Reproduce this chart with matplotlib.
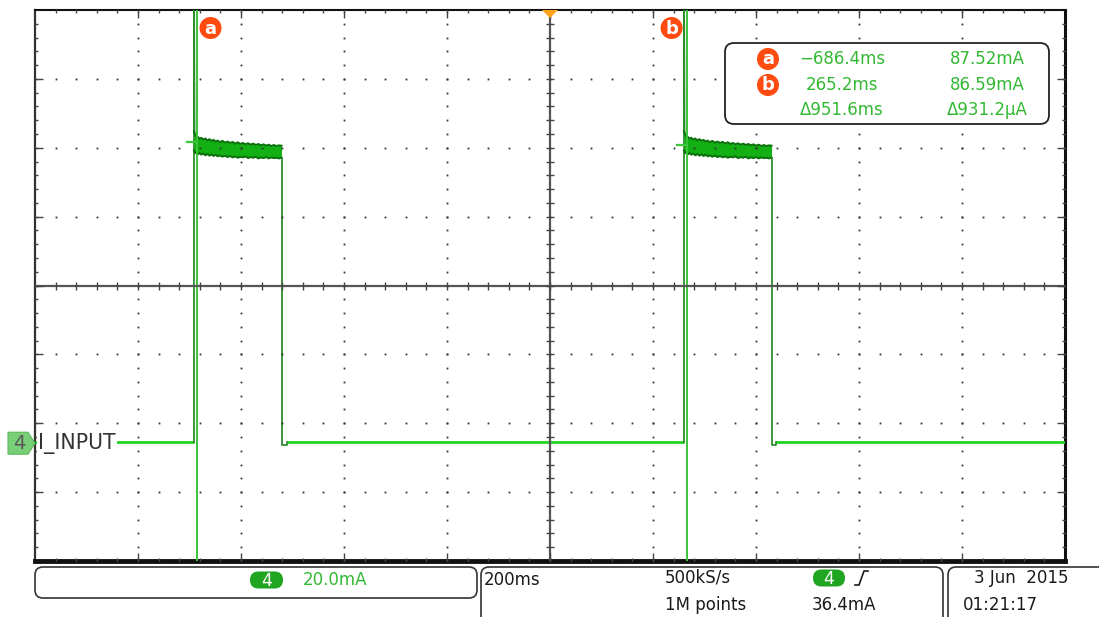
import matplotlib
matplotlib.use("Agg")
import matplotlib.pyplot as plt
import numpy as np
from matplotlib.patches import FancyBboxPatch, Polygon, Circle

# ---------------------------------------------------------------- settings
W, H = 1099, 617
SX0, SX1, SY0, SY1 = 35, 1065, 10, 561      # screen area in pixels

TIME_DIV_MS = 200
CURR_DIV_MA = 20
CENTER_MA = 45.8
N_HDIV, N_VDIV = 10, 8

# ---------------------------------------------------------------- waveform
RISE_MS = [-691.3, 260.2]
FALL_MS = [-520.4, 430.5]
BASE_MA = 0.3
UNDER_MA = -0.6
UNDER_MS = 9.0
SPIKE_MA = 140.0

# noise envelope of the "on" current, time measured from the rising edge
ENV_T_MS = [0, 1, 3, 5, 8, 11, 14, 18, 22, 26, 30, 34, 38, 42, 46, 50, 55, 60, 65, 70,
            75, 80, 85, 90, 95, 100, 105, 110, 115, 120, 125, 130, 135, 140, 145, 150,
            155, 160, 165, 170]
ENV_HI_MA = [90.6, 90.2, 89.4, 89.0, 88.9, 88.4, 88.7, 88.2, 88.5, 87.9, 88.3, 87.8,
             88.1, 87.6, 87.9, 87.4, 87.8, 87.3, 87.6, 87.2, 87.5, 87.0, 87.4, 86.9,
             87.2, 86.8, 87.1, 86.7, 87.0, 86.6, 86.9, 86.5, 86.8, 86.4, 86.7, 86.3,
             86.6, 86.3, 86.5, 86.4]
ENV_LO_MA = [85.0, 84.6, 84.2, 84.5, 83.9, 84.3, 83.8, 84.1, 83.6, 84.0, 83.5, 83.9,
             83.4, 83.8, 83.3, 83.6, 83.2, 83.5, 83.1, 83.4, 83.0, 83.3, 82.9, 83.2,
             83.0, 83.3, 82.8, 83.1, 82.9, 83.2, 82.7, 83.0, 82.8, 83.1, 82.7, 83.0,
             82.8, 82.9, 82.7, 82.9]

# ---------------------------------------------------------------- cursors
CURSOR_NAMES = ["a", "b"]
CURSOR_T_MS = [-686.4, 265.2]
CURSOR_I_MA = [87.52, 86.59]
DELTA_T_TXT = "\u0394951.6ms"
DELTA_I_TXT = "\u0394931.2\u00b5A"

CH_LABEL = "I_INPUT"
SCALE_TXT = "20.0mA"
TIMEBASE_TXT = "200ms"
RATE_TXT = "500kS/s"
POINTS_TXT = "1M points"
TRIG_TXT = "36.4mA"
DATE_TXT = "3 Jun  2015"
TIME_TXT = "01:21:17"

GREEN_TXT = "#33b833"
CURSOR_RED = "#ff4a10"

fig = plt.figure(figsize=(W / 100, H / 100), dpi=100)
fig.patch.set_facecolor("white")

ax = fig.add_axes([SX0 / W, 1 - SY1 / H, (SX1 - SX0) / W, (SY1 - SY0) / H])
xmin, xmax = -N_HDIV / 2 * TIME_DIV_MS, N_HDIV / 2 * TIME_DIV_MS
ymin, ymax = CENTER_MA - N_VDIV / 2 * CURR_DIV_MA, CENTER_MA + N_VDIV / 2 * CURR_DIV_MA
ax.set_xlim(xmin, xmax)
ax.set_ylim(ymin, ymax)
ax.set_xticks([])
ax.set_yticks([])
for side, lw, col in [("top", 1.5, "#111"), ("left", 1.6, "#333"),
                      ("right", 2.2, "#111"), ("bottom", 3.5, "#111")]:
    ax.spines[side].set_linewidth(lw)
    ax.spines[side].set_color(col)


def xpx(t):
    return SX0 + (t - xmin) / (xmax - xmin) * (SX1 - SX0)


def ypx(v):
    return SY0 + (ymax - v) / (ymax - ymin) * (SY1 - SY0)


# ---------------------------------------------------------------- graticule
minor_x = np.arange(xmin, xmax + 1, TIME_DIV_MS / 5)[1:-1]
minor_y = (CENTER_MA + np.arange(-N_VDIV / 2 * CURR_DIV_MA, N_VDIV / 2 * CURR_DIV_MA + 0.01,
                                 CURR_DIV_MA / 5))[1:-1]
major_x = np.arange(xmin, xmax + 1, TIME_DIV_MS)[1:-1]
major_y = (CENTER_MA + np.arange(-N_VDIV / 2, N_VDIV / 2 + 1) * CURR_DIV_MA)[1:-1]

dot_kw = dict(ls="none", marker="s", ms=1.3, color="#333", zorder=6, mew=0)
for yv in major_y:
    if abs(yv - CENTER_MA) > 1e-6:
        ax.plot(minor_x, np.full_like(minor_x, yv), **dot_kw)
for xv in major_x:
    if abs(xv) > 1e-6:
        ax.plot(np.full_like(minor_y, xv), minor_y, **dot_kw)

ax.axhline(CENTER_MA, color="#555", lw=1.6, zorder=5)
ax.axvline(0, color="#555", lw=1.6, zorder=5)
tick_kw = dict(ls="none", color="#444", mew=1.0, zorder=6)
ax.plot(minor_x, np.full_like(minor_x, CENTER_MA), marker="|", ms=6, **tick_kw)
ax.plot(np.zeros_like(minor_y), minor_y, marker="_", ms=6, **tick_kw)
for yb in (ymin, ymax):
    ax.plot(minor_x, np.full_like(minor_x, yb), marker="|", ms=5, **tick_kw)
    ax.plot(major_x, np.full_like(major_x, yb), marker="|", ms=11, **tick_kw)
for xb in (xmin, xmax):
    ax.plot(np.full_like(minor_y, xb), minor_y, marker="_", ms=5, **tick_kw)
    ax.plot(np.full_like(major_y, xb), major_y, marker="_", ms=11, **tick_kw)

# ---------------------------------------------------------------- trace
EDGE = "#2e8e2e"
BASE_COL = "#1fd41f"
env_t = np.array(ENV_T_MS, dtype=float)
base_starts = [xmin] + [f + UNDER_MS for f in FALL_MS]
base_ends = RISE_MS + [xmax]
for s, e in zip(base_starts, base_ends):
    ax.plot([s, e], [BASE_MA, BASE_MA], color=BASE_COL, lw=2.0, zorder=3,
            solid_capstyle="butt")
for r, f in zip(RISE_MS, FALL_MS):
    ax.plot([r, r, r + 1.0], [BASE_MA, SPIKE_MA, ENV_HI_MA[0]], color=EDGE, lw=1.3, zorder=3)
    t = np.minimum(r + env_t, f)
    ax.fill_between(t, ENV_LO_MA, ENV_HI_MA, color="#12b012", zorder=3, lw=0)
    ax.plot(t, ENV_HI_MA, color="#0b700b", lw=1.4, zorder=3)
    ax.plot(t, ENV_LO_MA, color="#0b700b", lw=1.4, zorder=3)
    ax.plot([f, f, f + UNDER_MS, f + UNDER_MS],
            [ENV_LO_MA[-1], UNDER_MA, UNDER_MA, BASE_MA], color=EDGE, lw=1.3, zorder=3)

# cursors
for t, i in zip(CURSOR_T_MS, CURSOR_I_MA):
    ax.axvline(t, color="#3cc43c", lw=1.4, zorder=4)
    ax.plot([t - 18, t], [i, i], color="#3cc83c", lw=1.6, zorder=4)

# ---------------------------------------------------------------- overlay
ov = fig.add_axes([0, 0, 1, 1], zorder=5)
ov.set_xlim(0, W)
ov.set_ylim(H, 0)
ov.axis("off")
ov.patch.set_alpha(0)

# trigger position marker
ov.add_patch(Polygon([(xpx(0) - 8, SY0), (xpx(0) + 8, SY0), (xpx(0), SY0 + 8)],
                     closed=True, fc="#ffa31a", ec="none"))

# cursor name bubbles at the top of the screen
for name, t, dx in zip(CURSOR_NAMES, CURSOR_T_MS, [14, -15]):
    cx = xpx(t) + dx
    ov.add_patch(Circle((cx, 28), 11, fc=CURSOR_RED, ec="none"))
    ov.text(cx, 28.5, name, color="white", fontsize=13, fontweight="bold",
            ha="center", va="center")

# channel ground marker and label
gy = ypx(0)
ov.add_patch(Polygon([(8, gy - 11), (28, gy - 11), (35, gy), (28, gy + 11), (8, gy + 11)],
                     closed=True, fc="#78cf78", ec="#5cb85c", lw=0.8))
ov.text(19, gy + 0.5, "4", color="#5a5a5a", fontsize=14, ha="center", va="center")
ov.text(38, gy, CH_LABEL, color="#333", fontsize=14.8, ha="left", va="center",
        bbox=dict(fc="white", ec="none", pad=1.0))

# cursor readout box
ov.add_patch(FancyBboxPatch((725, 43), 324, 81, boxstyle="round,pad=0,rounding_size=9",
                            fc="white", ec="#222", lw=1.3))
rows_y = [59, 85, 110]
for name, yy in zip(CURSOR_NAMES, rows_y[:2]):
    ov.add_patch(Circle((768, yy), 11, fc=CURSOR_RED, ec="none"))
    ov.text(768, yy + 0.5, name, color="white", fontsize=13, fontweight="bold",
            ha="center", va="center")
col1 = ["\u2212%.1fms" % abs(CURSOR_T_MS[0]) if CURSOR_T_MS[0] < 0 else "%.1fms" % CURSOR_T_MS[0],
        "%.1fms" % CURSOR_T_MS[1], DELTA_T_TXT]
col2 = ["%.2fmA" % CURSOR_I_MA[0], "%.2fmA" % CURSOR_I_MA[1], DELTA_I_TXT]
for yy, a, b in zip(rows_y, col1, col2):
    ov.text(842, yy, a, color=GREEN_TXT, fontsize=12, ha="center", va="center")
    ov.text(987, yy, b, color=GREEN_TXT, fontsize=12, ha="center", va="center")

# status bar
box_kw = dict(boxstyle="round,pad=0,rounding_size=8", fc="white", ec="#333", lw=1.2)
ov.add_patch(FancyBboxPatch((35, 567), 442, 31, **box_kw))
ov.add_patch(FancyBboxPatch((481, 567), 462, 70, **box_kw))
ov.add_patch(FancyBboxPatch((948, 567), 160, 70, **box_kw))

ov.add_patch(FancyBboxPatch((250, 571.5), 33, 17, boxstyle="round,pad=0,rounding_size=8.5",
                            fc="#1fa51f", ec="none"))
ov.text(266.5, 580.5, "4", color="white", fontsize=12.5, ha="center", va="center")
ov.text(303, 580, SCALE_TXT, color=GREEN_TXT, fontsize=12, ha="left", va="center")

TXT = "#1a1a1a"
ov.text(484, 580, TIMEBASE_TXT, color=TXT, fontsize=12, ha="left", va="center")
ov.text(665, 578, RATE_TXT, color=TXT, fontsize=12, ha="left", va="center")
ov.text(665, 605, POINTS_TXT, color=TXT, fontsize=12, ha="left", va="center")
ov.add_patch(FancyBboxPatch((813, 569.5), 32, 17, boxstyle="round,pad=0,rounding_size=8.5",
                            fc="#1fa51f", ec="none"))
ov.text(829, 578.5, "4", color="white", fontsize=12.5, ha="center", va="center")
ov.plot([855, 859, 864, 868], [585, 585, 571, 571], color=TXT, lw=1.2)
ov.text(812, 605, TRIG_TXT, color=TXT, fontsize=12, ha="left", va="center")
ov.text(1068, 578, DATE_TXT, color=TXT, fontsize=12, ha="right", va="center")
ov.text(963, 605, TIME_TXT, color=TXT, fontsize=12, ha="left", va="center")

fig.savefig("out.png", dpi=100, facecolor="white")
